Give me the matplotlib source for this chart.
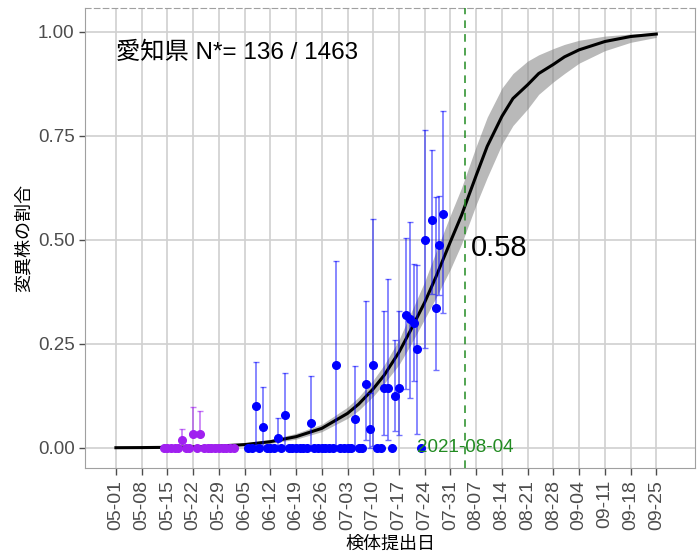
import matplotlib.pyplot as plt
import matplotlib.dates as mdates
import pandas as pd

plt.rcParams['font.family'] = ['Liberation Sans', 'Noto Sans CJK JP']

start = pd.Timestamp('2021-05-01')

# fitted curve + ribbon (days after 05-01)
curve_days = [0, 7, 14, 21, 28, 35, 42, 49, 56, 63, 66, 70, 73, 77, 80, 84, 87, 91, 94, 98,
              101, 105, 108, 112, 115, 119, 122, 126, 133, 140, 147]
curve_mid = [0.0005, 0.0008, 0.0014, 0.0025, 0.0045, 0.008, 0.015, 0.027, 0.047, 0.083, 0.105,
             0.142, 0.175, 0.23, 0.28, 0.35, 0.41, 0.496, 0.559, 0.655, 0.725, 0.797, 0.84,
             0.873, 0.90, 0.922, 0.94, 0.957, 0.977, 0.989, 0.995]
curve_lo = [0.0002, 0.0004, 0.0007, 0.0013, 0.0025, 0.005, 0.011, 0.021, 0.039, 0.071, 0.09,
            0.124, 0.155, 0.20, 0.245, 0.31, 0.36, 0.43, 0.49, 0.585, 0.65, 0.73, 0.775,
            0.815, 0.85, 0.88, 0.90, 0.925, 0.955, 0.975, 0.987]
curve_hi = [0.001, 0.0015, 0.0025, 0.004, 0.007, 0.012, 0.020, 0.035, 0.057, 0.098, 0.122,
            0.163, 0.20, 0.26, 0.32, 0.40, 0.47, 0.56, 0.625, 0.725, 0.795, 0.865, 0.90,
            0.93, 0.945, 0.96, 0.97, 0.98, 0.99, 0.995, 0.998]

# purple points (earlier period)
purple_dates = ['2021-05-14', '2021-05-15', '2021-05-16', '2021-05-17', '2021-05-18', '2021-05-19',
                '2021-05-20', '2021-05-21', '2021-05-22', '2021-05-23', '2021-05-24', '2021-05-25',
                '2021-05-26', '2021-05-27', '2021-05-28', '2021-05-29', '2021-05-30', '2021-05-31',
                '2021-06-01', '2021-06-02']
purple_val = [0, 0, 0, 0, 0, 0.018, 0, 0, 0.033, 0, 0.033, 0, 0, 0, 0, 0, 0, 0, 0, 0]
purple_hi = [0, 0, 0, 0, 0, 0.046, 0, 0, 0.098, 0, 0.089, 0, 0, 0, 0, 0, 0, 0, 0, 0]

# blue points with confidence intervals
blue_dates = ['2021-06-08', '2021-06-10', '2021-06-14', '2021-06-16', '2021-06-23', '2021-06-30',
              '2021-07-05', '2021-07-08', '2021-07-09', '2021-07-10', '2021-07-13', '2021-07-14',
              '2021-07-16', '2021-07-17', '2021-07-19', '2021-07-20', '2021-07-21', '2021-07-22',
              '2021-07-24', '2021-07-26', '2021-07-27', '2021-07-28', '2021-07-29']
blue_val = [0.10, 0.05, 0.025, 0.078, 0.059, 0.20, 0.069, 0.154, 0.046, 0.20, 0.145, 0.145,
            0.126, 0.145, 0.32, 0.31, 0.30, 0.237, 0.50, 0.548, 0.336, 0.488, 0.5625]
blue_lo = [0.003, 0.001, 0.0, 0.002, 0.002, 0.005, 0.002, 0.02, 0.001, 0.005, 0.03, 0.02,
           0.04, 0.03, 0.142, 0.12, 0.16, 0.034, 0.24, 0.37, 0.188, 0.368, 0.324]
blue_hi = [0.207, 0.147, 0.073, 0.181, 0.173, 0.45, 0.197, 0.352, 0.133, 0.55, 0.33, 0.405,
           0.26, 0.33, 0.504, 0.542, 0.442, 0.44, 0.764, 0.716, 0.604, 0.606, 0.81]

blue_zero_dates = ['2021-06-06', '2021-06-07', '2021-06-09', '2021-06-11', '2021-06-12', '2021-06-13',
                   '2021-06-15', '2021-06-17', '2021-06-18', '2021-06-19', '2021-06-20', '2021-06-21',
                   '2021-06-22', '2021-06-24', '2021-06-25', '2021-06-26', '2021-06-27', '2021-06-28',
                   '2021-06-29', '2021-07-01', '2021-07-02', '2021-07-03', '2021-07-04', '2021-07-06',
                   '2021-07-07', '2021-07-11', '2021-07-12', '2021-07-15', '2021-07-23']

tick_dates = pd.date_range('2021-05-01', '2021-09-25', freq='7D')
marker_date = pd.Timestamp('2021-08-04')
marker_val = 0.58

fig = plt.figure(figsize=(6.97, 5.59), dpi=100)
ax = fig.add_axes([0.122, 0.163, 0.875, 0.823])

cd = [start + pd.Timedelta(days=d) for d in curve_days]
ax.fill_between(cd, curve_lo, curve_hi, color='grey', alpha=0.55, lw=0, zorder=2)
ax.plot(cd, curve_mid, color='black', lw=2.2, zorder=3)

pd_ = pd.to_datetime(purple_dates)
pv = pd.Series(purple_val)
ph = pd.Series(purple_hi)
nz = pv > 0
ax.errorbar(pd_[nz], pv[nz], yerr=[pv[nz] * 0, ph[nz] - pv[nz]], fmt='none',
            ecolor='#a020f0', alpha=0.6, elinewidth=1.2, capsize=2, zorder=4)
ax.plot(pd_, pv, 'o', color='#a020f0', ms=5.5, zorder=5)

bd = pd.to_datetime(blue_dates)
bv = pd.Series(blue_val)
ax.errorbar(bd, bv, yerr=[bv - pd.Series(blue_lo), pd.Series(blue_hi) - bv], fmt='none',
            ecolor='blue', alpha=0.55, elinewidth=1.2, capsize=2, zorder=4)
ax.plot(bd, bv, 'o', color='blue', ms=5.5, zorder=5)
ax.plot(pd.to_datetime(blue_zero_dates), [0] * len(blue_zero_dates), 'o', color='blue', ms=5.5, zorder=5)

ax.axvline(marker_date, color='forestgreen', ls=(0, (5, 4)), lw=1.1, zorder=3)
ax.text(marker_date, 0, '2021-08-04', color='forestgreen', fontsize=13.5,
        ha='center', va='center', zorder=6)
ax.text(marker_date + pd.Timedelta(days=1.5), marker_val - 0.1, '0.58', fontsize=21,
        ha='left', va='center', zorder=6)
ax.text(start, 0.95, '愛知県 N*= 136 / 1463', fontsize=17.5,
        ha='left', va='center', zorder=6)

ax.set_xlim(start - pd.Timedelta(days=8.4), start + pd.Timedelta(days=157.5))
ax.set_ylim(-0.048, 1.058)
ax.set_xticks(tick_dates)
ax.xaxis.set_major_formatter(mdates.DateFormatter('%m-%d'))
ax.set_yticks([0, 0.25, 0.5, 0.75, 1.0])
ax.set_yticklabels(['0.00', '0.25', '0.50', '0.75', '1.00'])
ax.tick_params(axis='x', labelrotation=90, labelsize=14, colors='#4d4d4d', length=5, width=1)
ax.tick_params(axis='y', labelsize=13.5, colors='#4d4d4d', length=4, width=1)

ax.grid(True, color='#d0d0d0', lw=1.2, zorder=0)
ax.set_axisbelow(True)
for s in ['left', 'bottom', 'right']:
    ax.spines[s].set_color('#a0a0a0')
ax.spines['top'].set_color('#a0a0a0')
ax.spines['top'].set_linestyle((0, (5, 3)))

ax.set_xlabel('検体提出日', fontsize=13)
ax.set_ylabel('変異株の割合', fontsize=13)

plt.savefig('out.png', dpi=100)
